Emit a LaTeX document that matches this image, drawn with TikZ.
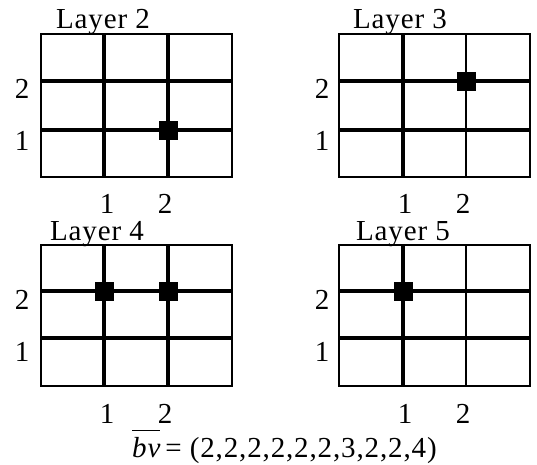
\documentclass[tikz,border=0pt]{standalone}
\usepackage{fontspec}
\setmainfont{Liberation Serif}[LetterSpace=3]
\begin{document}
\begin{tikzpicture}[x=1pt,y=-1pt,
  lbl/.style={font=\fontsize{29}{34}\selectfont, inner sep=0pt, anchor=base},
  border/.style={line width=2pt},
  thickln/.style={line width=3.6pt},
  thinln/.style={line width=2.2pt},
  dot/.style={fill=black, minimum size=19pt, inner sep=0pt, draw=none, rectangle}]
\useasboundingbox (0,0) rectangle (537,464);
\fill[white] (0,0) rectangle (537,464);
% ---------- Layer 2 ----------
\draw[thickln] (41,81) -- (232,81) (41,130) -- (232,130);
\draw[thickln] (104,34) -- (104,177) (168,34) -- (168,177);
\draw[border] (41,34) rectangle (232,177);
\node[dot] (d2a) at (168,130) {};
\node[lbl] (t2) at (103,28) {Layer 2};
\node[lbl] (l2y2) at (22,98) {2};
\node[lbl] (l2y1) at (22,150) {1};
\node[lbl] (l2x1) at (107,213) {1};
\node[lbl] (l2x2) at (165,213) {2};
% ---------- Layer 3 ----------
\draw[thickln] (339,81) -- (530,81) (339,130) -- (530,130);
\draw[thickln] (403,34) -- (403,177);
\draw[thinln] (466,34) -- (466,177);
\draw[border] (339,34) rectangle (530,177);
\node[dot] (d3a) at (466,81) {};
\node[lbl] (t3) at (400,28) {Layer 3};
\node[lbl] (l3y2) at (322,98) {2};
\node[lbl] (l3y1) at (322,150) {1};
\node[lbl] (l3x1) at (405,213) {1};
\node[lbl] (l3x2) at (463,213) {2};
% ---------- Layer 4 ----------
\draw[thickln] (41,291) -- (232,291) (41,338) -- (232,338);
\draw[thickln] (104,245) -- (104,386) (168,245) -- (168,386);
\draw[border] (41,245) rectangle (232,386);
\node[dot] (d4a) at (104,291) {};
\node[dot] (d4b) at (168,291) {};
\node[lbl] (t4) at (97,240) {Layer 4};
\node[lbl] (l4y2) at (22,309) {2};
\node[lbl] (l4y1) at (22,361) {1};
\node[lbl] (l4x1) at (107,423) {1};
\node[lbl] (l4x2) at (165,423) {2};
% ---------- Layer 5 ----------
\draw[thickln] (339,291) -- (530,291) (339,338) -- (530,338);
\draw[thickln] (403,245) -- (403,386);
\draw[thinln] (466,245) -- (466,386);
\draw[border] (339,245) rectangle (530,386);
\node[dot] (d5a) at (403,291) {};
\node[lbl] (t5) at (403,240) {Layer 5};
\node[lbl] (l5y2) at (322,309) {2};
\node[lbl] (l5y1) at (322,361) {1};
\node[lbl] (l5x1) at (405,423) {1};
\node[lbl] (l5x2) at (463,423) {2};
% ---------- vector ----------
\node[lbl, anchor=base west] (bv) at (132,457) {$\overline{\mbox{\itshape bv}\rule{0pt}{25pt}}$\,= (2,2,2,2,2,2,3,2,2,4)};
\end{tikzpicture}
\end{document}
